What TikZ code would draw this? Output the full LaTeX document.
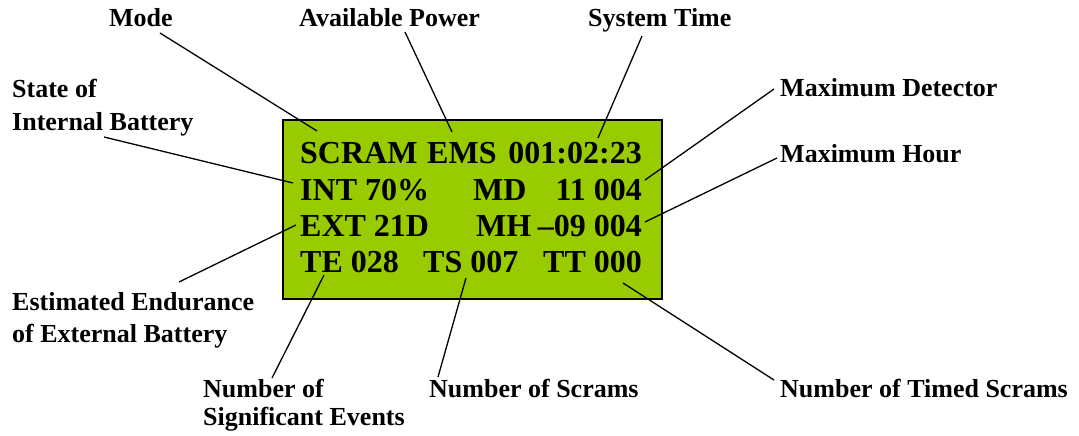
\documentclass[tikz,border=0pt]{standalone}
\usepackage{fontspec}
\setmainfont{Liberation Serif}
\begin{document}
\begin{tikzpicture}[x=1pt,y=-1pt,
  lbl/.style={anchor=base west,inner sep=0pt,font=\fontsize{26}{30}\selectfont\bfseries},
  lcd/.style={anchor=base west,inner sep=0pt,font=\fontsize{32}{38}\selectfont\bfseries},
  lcdr/.style={lcd,anchor=base east},
  conn/.style={draw=black,line width=1.3pt},
  panel/.style={draw=black,line width=1.5pt,fill=lcdgreen}]
\definecolor{lcdgreen}{HTML}{99CC00}
\useasboundingbox (0,0) rectangle (1079,436);
% panel
\draw[panel] (283,120) rectangle (662,299);
% display text
\node[lcd] (scram) at (300,163) {SCRAM};
\node[lcd] (ems) at (427,163) {EMS};
\node[lcdr] (time) at (642,163) {001:02:23};
\node[lcd] (int) at (300,200) {INT 70\%};
\node[lcd] (md) at (473,200) {MD};
\node[lcdr] (mdv) at (642,200) {11 004};
\node[lcd] (ext) at (300,236) {EXT 21D};
\node[lcd] (mh) at (476,236) {MH};
\node[lcdr] (mhv) at (642,236) {–09 004};
\node[lcd] (te) at (300,272) {TE 028};
\node[lcd] (ts) at (423,272) {TS 007};
\node[lcd] (tt) at (543,272) {TT 000};
% labels
\node[lbl] (lmode) at (109,27) {Mode};
\node[lbl] (lpower) at (299,27) {Available Power};
\node[lbl] (ltime) at (588,27) {System Time};
\node[lbl] (lstate1) at (12,97) {State of};
\node[lbl] (lstate2) at (12,130) {Internal Battery};
\node[lbl] (lmd) at (780,96) {Maximum Detector};
\node[lbl] (lmh) at (780,162) {Maximum Hour};
\node[lbl] (lee1) at (12,310) {Estimated Endurance};
\node[lbl] (lee2) at (12,342) {of External Battery};
\node[lbl] (lse1) at (203,397) {Number of};
\node[lbl] (lse2) at (203,425) {Significant Events};
\node[lbl] (lns) at (429,397) {Number of Scrams};
\node[lbl] (lnts) at (780,397) {Number of Timed Scrams};
% connector end points
\coordinate (cmode1) at (160,33);   \coordinate (cmode2) at (317,131);
\coordinate (cpow1) at (405,32);    \coordinate (cpow2) at (452,132);
\coordinate (ctime1) at (642,36);   \coordinate (ctime2) at (598,138);
\coordinate (cstate1) at (104,137); \coordinate (cstate2) at (293,183);
\coordinate (cmd1) at (774,89);     \coordinate (cmd2) at (645,180);
\coordinate (cmh1) at (777,158);    \coordinate (cmh2) at (645,222);
\coordinate (cee1) at (179,282);    \coordinate (cee2) at (296,225);
\coordinate (cse1) at (272,378);    \coordinate (cse2) at (324,275);
\coordinate (cns1) at (438,377);    \coordinate (cns2) at (466,278);
\coordinate (cnts1) at (774,380);   \coordinate (cnts2) at (623,283);
% connectors
\draw[conn] (cmode1) -- (cmode2);
\draw[conn] (cpow1) -- (cpow2);
\draw[conn] (ctime1) -- (ctime2);
\draw[conn] (cstate1) -- (cstate2);
\draw[conn] (cmd1) -- (cmd2);
\draw[conn] (cmh1) -- (cmh2);
\draw[conn] (cee1) -- (cee2);
\draw[conn] (cse1) -- (cse2);
\draw[conn] (cns1) -- (cns2);
\draw[conn] (cnts1) -- (cnts2);
\end{tikzpicture}
\end{document}
